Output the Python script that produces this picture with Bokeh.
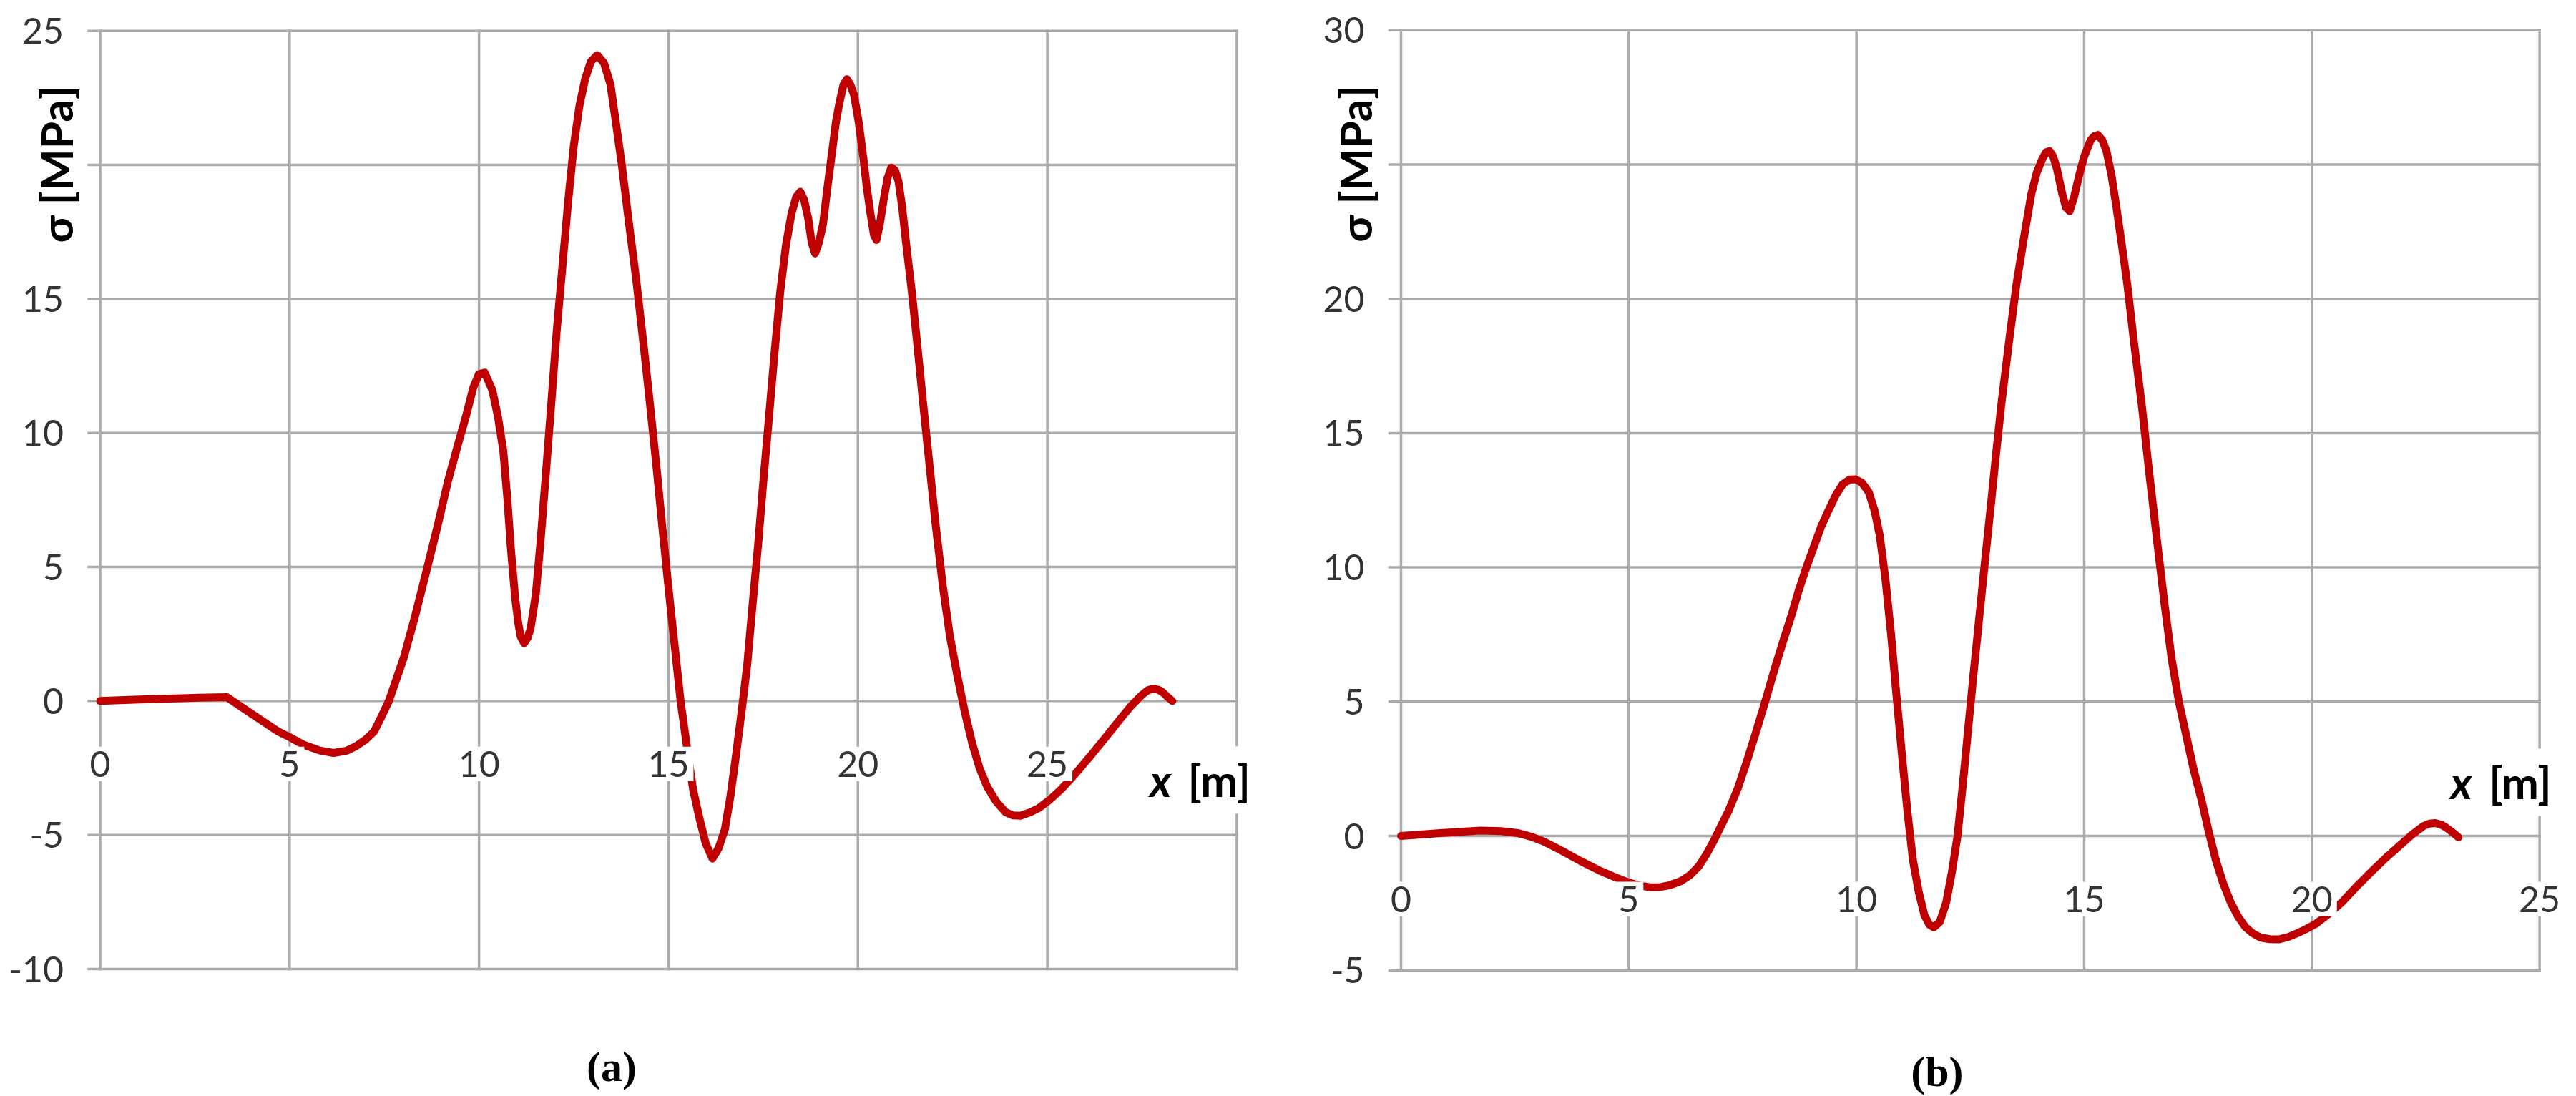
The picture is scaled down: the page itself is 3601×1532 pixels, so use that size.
import math
from bokeh.plotting import figure
from bokeh.layouts import row
from bokeh.models import Label, Range1d
from bokeh.core.properties import value
from bokeh.embed import file_html
from bokeh.resources import INLINE

# ---------------- data ----------------
# panel (a)
xa = [0, 0.9, 1.77, 2.6, 3.35, 4.0, 4.7, 5.0, 5.38, 5.8, 6.16, 6.5, 6.74, 7.0, 7.23, 7.42, 7.62,
      8.01, 8.3, 8.6, 8.9, 9.18, 9.45, 9.67, 9.85, 10.0, 10.15, 10.35, 10.5, 10.64, 10.75, 10.84,
      10.95, 11.03, 11.1, 11.19, 11.28, 11.36, 11.5, 11.62, 11.76, 11.91, 12.05, 12.2, 12.35, 12.5,
      12.65, 12.8, 12.95, 13.12, 13.3, 13.47, 13.6, 13.76, 13.95, 14.15, 14.35, 14.54, 14.7, 14.83,
      14.98, 15.13, 15.32, 15.52, 15.65, 15.81, 15.98, 16.16, 16.32, 16.49, 16.63, 16.78, 16.93,
      17.08, 17.22, 17.37, 17.51, 17.66, 17.8, 17.95, 18.1, 18.25, 18.37, 18.48, 18.58, 18.69,
      18.78, 18.87, 18.97, 19.08, 19.2, 19.32, 19.42, 19.51, 19.62, 19.71, 19.8, 19.9, 20.02,
      20.14, 20.23, 20.33, 20.42, 20.49, 20.58, 20.68, 20.78, 20.88, 20.98, 21.07, 21.17, 21.27,
      21.42, 21.56, 21.7, 21.85, 22.05, 22.24, 22.43, 22.63, 22.82, 23.02, 23.21, 23.41, 23.65,
      23.9, 24.1, 24.29, 24.55, 24.78, 25.05, 25.36, 25.75, 26.14, 26.53, 26.92, 27.2, 27.5,
      27.65, 27.8, 27.93, 28.03, 28.15, 28.3]
sa = [0, 0.05, 0.09, 0.12, 0.14, -0.48, -1.14, -1.35, -1.64, -1.85, -1.94, -1.86, -1.7, -1.45,
      -1.14, -0.6, 0, 1.6, 3.1, 4.78, 6.5, 8.2, 9.6, 10.7, 11.7, 12.2, 12.25, 11.6, 10.6, 9.34,
      7.5, 5.7, 3.9, 2.96, 2.4, 2.16, 2.35, 2.7, 4.0, 5.9, 8.4, 11.16, 13.8, 16.2, 18.6, 20.7,
      22.2, 23.2, 23.85, 24.1, 23.8, 23.0, 21.7, 20.1, 17.9, 15.7, 13.2, 10.7, 8.5, 6.6, 4.5,
      2.5, 0, -2.05, -3.3, -4.33, -5.3, -5.88, -5.5, -4.78, -3.6, -2.05, -0.4, 1.37, 3.6, 5.9,
      8.3, 10.7, 13.0, 15.26, 17.0, 18.2, 18.8, 19.0, 18.7, 18.0, 17.1, 16.7, 17.1, 17.8, 19.2,
      20.5, 21.6, 22.3, 23.0, 23.2, 23.0, 22.6, 21.6, 20.3, 19.2, 18.2, 17.4, 17.2, 17.8, 18.7,
      19.5, 19.9, 19.8, 19.4, 18.4, 17.1, 15.3, 13.4, 11.4, 9.34, 6.6, 4.3, 2.4, 0.9, -0.4,
      -1.6, -2.5, -3.19, -3.75, -4.15, -4.27, -4.28, -4.15, -3.99, -3.7, -3.3, -2.7, -2.05,
      -1.37, -0.68, -0.2, 0.23, 0.4, 0.46, 0.42, 0.34, 0.18, 0]

# panel (b)
xb = [0, 0.86, 1.75, 2.2, 2.56, 2.85, 3.13, 3.5, 3.94, 4.35, 4.75, 5.0, 5.24, 5.45, 5.65, 5.9,
      6.13, 6.35, 6.54, 6.7, 6.86, 7.02, 7.19, 7.4, 7.59, 7.8, 8.0, 8.2, 8.4, 8.57, 8.73, 8.9,
      9.05, 9.22, 9.38, 9.55, 9.7, 9.85, 9.98, 10.12, 10.27, 10.4, 10.51, 10.64, 10.76, 10.88,
      11.0, 11.12, 11.24, 11.37, 11.49, 11.6, 11.7, 11.83, 11.97, 12.1, 12.22, 12.34, 12.46,
      12.58, 12.7, 12.82, 12.95, 13.07, 13.19, 13.35, 13.51, 13.68, 13.84, 13.96, 14.08, 14.16,
      14.24, 14.32, 14.4, 14.52, 14.6, 14.68, 14.78, 14.89, 15.0, 15.14, 15.22, 15.3, 15.4,
      15.49, 15.6, 15.7, 15.82, 15.95, 16.1, 16.27, 16.43, 16.6, 16.76, 16.92, 17.08, 17.25,
      17.4, 17.57, 17.73, 17.89, 18.05, 18.22, 18.38, 18.54, 18.7, 18.87, 19.07, 19.27, 19.48,
      19.68, 19.88, 20.08, 20.37, 20.65, 20.97, 21.3, 21.62, 21.95, 22.2, 22.44, 22.58, 22.71,
      22.84, 22.96, 23.1, 23.22]
sb = [0, 0.11, 0.2, 0.18, 0.11, -0.02, -0.2, -0.52, -0.93, -1.28, -1.57, -1.73, -1.85, -1.9,
      -1.91, -1.83, -1.69, -1.45, -1.12, -0.7, -0.2, 0.35, 0.93, 1.8, 2.76, 3.9, 5.03, 6.2, 7.3,
      8.2, 9.13, 10.0, 10.7, 11.5, 12.1, 12.7, 13.1, 13.27, 13.28, 13.15, 12.8, 12.1, 11.2, 9.5,
      7.5, 5.2, 3.0, 0.9, -0.9, -2.1, -2.94, -3.3, -3.4, -3.2, -2.48, -1.3, 0.02, 2.0, 4.12,
      6.2, 8.2, 10.2, 12.3, 14.3, 16.2, 18.4, 20.5, 22.3, 23.9, 24.7, 25.2, 25.45, 25.5, 25.3,
      24.85, 23.9, 23.4, 23.26, 23.8, 24.6, 25.3, 25.9, 26.05, 26.1, 25.9, 25.5, 24.6, 23.5,
      22.1, 20.5, 18.3, 15.97, 13.5, 11.0, 8.7, 6.6, 5.0, 3.67, 2.5, 1.39, 0.2, -0.89, -1.75,
      -2.48, -3.0, -3.39, -3.62, -3.78, -3.84, -3.85, -3.76, -3.62, -3.46, -3.28, -2.9, -2.48,
      -1.9, -1.34, -0.82, -0.32, 0.05, 0.36, 0.46, 0.48, 0.42, 0.3, 0.12, -0.05]

# grid / tick values and the tick labels that are visible in the reference
xticks_a = [0, 5, 10, 15, 20, 25, 30]
xlabels_a = ["0", "5", "10", "15", "20", "25"]
yticks_a = [-10, -5, 0, 5, 10, 15, 20, 25]
ylabel_pos_a = [-10, -5, 0, 5, 10, 15, 25]          # "20" is hidden by the axis title
ylabels_a = ["-10", "-5", "0", "5", "10", "15", "25"]
xticks_b = [0, 5, 10, 15, 20, 25]
xlabels_b = ["0", "5", "10", "15", "20", "25"]
yticks_b = [-5, 0, 5, 10, 15, 20, 25, 30]
ylabel_pos_b = [-5, 0, 5, 10, 15, 20, 30]           # "25" is hidden by the axis title
ylabels_b = ["-5", "0", "5", "10", "15", "20", "30"]

y_title = "σ [MPa]"
x_title_var = "x"
x_title_unit = "[m]"

# ---------------- styling ----------------
GRID = "#ababab"
RED = "#c00000"
FONT = "Lato"
TICK_COL = "#333333"
GW = 3.5


def make_panel(xs, ys, xticks, xlabels, yticks, ylab_pos, ylabels,
               cw, ch, fl, fr, ft, fb,
               ytitle_y, ytitle_off, xt_pos, caption, cap_pos):
    """cw, ch: canvas size; fl, fr, ft, fb: pixel edges of the plotting area."""
    x0, x1 = xticks[0], xticks[-1]
    y0, y1 = yticks[0], yticks[-1]
    kx = (fr - fl) / (x1 - x0)
    ky = (fb - ft) / (y1 - y0)
    xr = Range1d(x0 - fl / kx, x1 + (cw - fr) / kx)
    yr = Range1d(y0 - (ch - fb) / ky, y1 + ft / ky)

    p = figure(width=cw, height=ch, x_range=xr, y_range=yr,
               x_axis_location=None, y_axis_location=None, min_border=0,
               toolbar_location=None, output_backend="svg")
    p.background_fill_color = "white"
    p.border_fill_color = "white"
    p.outline_line_color = None
    p.grid.visible = False

    # grid lines (and outward tick marks on the value axis)
    p.segment(x0=xticks, y0=[y0] * len(xticks), x1=xticks, y1=[y1] * len(xticks),
              line_color=GRID, line_width=GW, line_cap="square")
    tick_len = 16 / kx
    p.segment(x0=[x0 - tick_len] * len(yticks), y0=yticks, x1=[x1] * len(yticks), y1=yticks,
              line_color=GRID, line_width=GW, line_cap="square")

    # y tick labels
    p.text(x=[x0] * len(ylab_pos), y=ylab_pos, text=ylabels, x_offset=-51,
           text_align="right", text_baseline="middle", text_font=value(FONT),
           text_font_size="50px", text_color=TICK_COL)

    p.line(xs, ys, line_color=RED, line_width=11, line_join="round", line_cap="round")

    # x tick labels sitting under the zero line, with white boxes
    for t, lab in zip(xticks, xlabels):
        p.add_layout(Label(x=t, y=0, text=lab, y_offset=-88, text_align="center",
                           text_baseline="alphabetic", text_font=FONT,
                           text_font_size="50px", text_color=TICK_COL,
                           background_fill_color="white", padding=6))

    # rotated y title
    p.add_layout(Label(x=x0, y=ytitle_y, x_offset=ytitle_off, text=y_title,
                       angle=math.pi / 2, text_align="center", text_baseline="middle",
                       text_font=FONT, text_font_size="62px", text_font_style="bold",
                       text_color="black"))

    # x title ("x" italic bold, "[m]" bold)
    xv, xu, yb = xt_pos
    p.add_layout(Label(x=xv, y=yb, text=x_title_var, text_align="right",
                       text_baseline="alphabetic", text_font=FONT, text_font_size="62px",
                       text_font_style="bold italic", text_color="black",
                       background_fill_color="white", padding=4))
    p.add_layout(Label(x=xu, y=yb, text=x_title_unit, text_align="left",
                       text_baseline="alphabetic", text_font=FONT, text_font_size="62px",
                       text_font_style="bold", text_color="black",
                       background_fill_color="white", padding=10))

    # caption
    cx, coff = cap_pos
    p.add_layout(Label(x=cx, y=y0, y_offset=coff, text=caption, text_align="center",
                       text_baseline="alphabetic", text_font="Liberation Serif",
                       text_font_size="60px", text_font_style="bold", text_color="black"))
    return p


pa = make_panel(xa, sa, xticks_a, xlabels_a, yticks_a, ylabel_pos_a, ylabels_a,
                1790, 1532, 139.5, 1728.4, 42.7, 1354.0,
                20, -62, (28.35, 28.52, -2.95), "(a)", (13.5, -136))
pb = make_panel(xb, sb, xticks_b, xlabels_b, yticks_b, ylabel_pos_b, ylabels_b,
                1800, 1532, 168.0, 1759.6, 41.7, 1355.8,
                25, -65, (23.58, 23.73, 2.0), "(b)", (11.77, -142))

layout = row(pa, pb)
open("out.html", "w").write(file_html(layout, INLINE))
